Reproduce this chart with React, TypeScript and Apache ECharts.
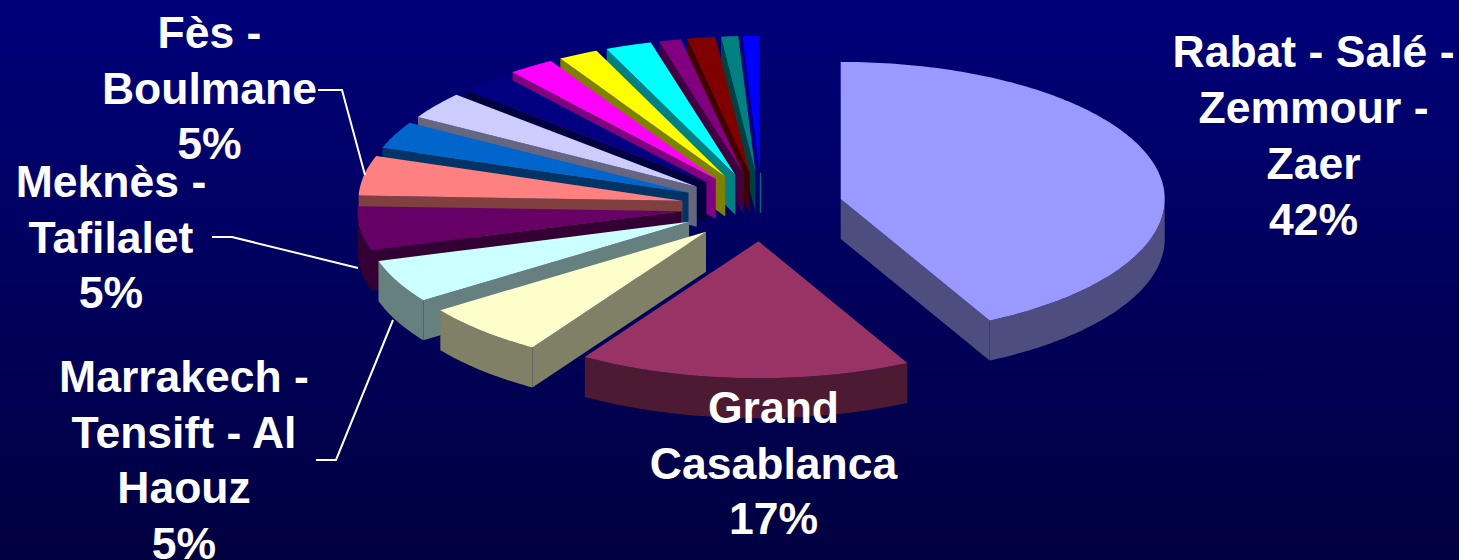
import React, { useEffect, useRef } from "react";
import * as echarts from "echarts";

// Slices clockwise from 12 o'clock, percent of the total.
const regions = [
  "Rabat - Salé - Zemmour - Zaer",
  "Grand Casablanca",
  "Region 3",
  "Marrakech - Tensift - Al Haouz",
  "Meknès - Tafilalet",
  "Fès - Boulmane",
  "Region 7",
  "Region 8",
  "Region 9",
  "Region 10",
  "Region 11",
  "Region 12",
  "Region 13",
  "Region 14",
  "Region 15",
  "Region 16",
];
const shares = [42.4, 16.6, 6.3, 5.1, 5.2, 4.7, 3.2, 3.2, 2.5, 2.3, 2, 2.3, 1.1, 1.4, 0.85, 0.85];
const topColors = [
  "#9999FF", "#993366", "#FFFFCC", "#CCFFFF", "#660066", "#FF8080", "#0066CC", "#CCCCFF",
  "#000080", "#FF00FF", "#FFFF00", "#00FFFF", "#800080", "#800000", "#008080", "#0000FF",
];
const wallColors = [
  "#4D4D80", "#4D1A33", "#808066", "#668080", "#330033", "#804040", "#003366", "#666680",
  "#000040", "#800080", "#808000", "#008080", "#400040", "#400000", "#004040", "#000080",
];

// Layout of the tilted pie
const CX = 762;
const CY = 207;
const RX = 324;
const RY = 137;
const DEPTH = 40;
const EXPLODE = 0.25;
const RAD = Math.PI / 180;

// Text blocks: slice index, wrapped region name, centre of the block
const labelBlocks = [
  { slice: 0, lines: ["Rabat - Salé -", "Zemmour -", "Zaer"], x: 1313.5, y: 135.5 },
  { slice: 1, lines: ["Grand", "Casablanca"], x: 773.5, y: 463 },
  { slice: 3, lines: ["Marrakech -", "Tensift - Al", "Haouz"], x: 184, y: 460 },
  { slice: 4, lines: ["Meknès -", "Tafilalet"], x: 111, y: 237 },
  { slice: 5, lines: ["Fès -", "Boulmane"], x: 209.5, y: 88 },
];
const leaders = [
  [[318, 90], [342, 90], [365, 175]],
  [[212, 237], [232, 237], [358, 268]],
  [[316, 460], [336, 460], [393, 320]],
];

const FONT = "'Liberation Sans', Arial, sans-serif";

const total = shares.reduce((s, v) => s + v, 0);
let run = 0;
const spans = shares.map((v, i) => {
  const start = (run / total) * 360;
  run += v;
  const end = (run / total) * 360;
  return { i, start, end };
});
const apexOf = (start: number, end: number) => {
  const mid = ((start + end) / 2) * RAD;
  return [CX + EXPLODE * RX * Math.sin(mid), CY - EXPLODE * RY * Math.cos(mid)];
};
// painter's order: the slices whose apex is highest on screen go first
const drawOrder = [...spans].sort((a, b) => apexOf(a.start, a.end)[1] - apexOf(b.start, b.end)[1]);
const seriesData = drawOrder.map((s) => [s.i, s.start, s.end]);

function renderSlice(_params: any, api: any) {
  const idx = api.value(0) as number;
  const a = api.value(1) as number;
  const b = api.value(2) as number;
  const [ax, ay] = apexOf(a, b);
  const rim = (deg: number, drop = 0) => [
    ax + RX * Math.sin(deg * RAD),
    ay - RY * Math.cos(deg * RAD) + drop,
  ];
  const arc = (from: number, to: number, drop = 0) => {
    const pts: number[][] = [];
    const n = Math.max(2, Math.ceil(to - from));
    for (let k = 0; k <= n; k++) pts.push(rim(from + ((to - from) * k) / n, drop));
    return pts;
  };
  const children: any[] = [];
  const wall = wallColors[idx];
  const edgeWall = (deg: number) => {
    const p = rim(deg);
    children.push({
      type: "polygon",
      shape: { points: [[ax, ay], p, [p[0], p[1] + DEPTH], [ax, ay + DEPTH]] },
      style: { fill: wall },
    });
  };
  if (a >= 180) edgeWall(a);
  if (b <= 180) edgeWall(b);
  const f = Math.max(a, 90);
  const t = Math.min(b, 270);
  if (t > f) {
    children.push({
      type: "polygon",
      shape: { points: [...arc(f, t), ...arc(f, t, DEPTH).reverse()] },
      style: { fill: wall },
    });
  }
  children.push({
    type: "polygon",
    shape: { points: [[ax, ay], ...arc(a, b)] },
    style: { fill: topColors[idx] },
  });
  if (idx === shares.length - 1) {
    children.push({
      type: "line",
      shape: { x1: ax + 0.5, y1: ay, x2: ax + 0.5, y2: ay + DEPTH },
      style: { stroke: "#008080", lineWidth: 1 },
    });
  }
  return { type: "group", children };
}

export default function App() {
  const ref = useRef<HTMLDivElement>(null);
  useEffect(() => {
    document.body.style.margin = "0";
    const chart = echarts.init(ref.current!, null, { renderer: "svg" });
    chart.setOption({
      animation: false,
      backgroundColor: {
        type: "linear",
        x: 0,
        y: 0,
        x2: 0,
        y2: 1,
        colorStops: [
          { offset: 0, color: "#00007A" },
          { offset: 1, color: "#000040" },
        ],
      },
      series: [
        {
          type: "custom",
          coordinateSystem: "none",
          renderItem: renderSlice,
          data: seriesData,
          silent: true,
        },
      ],
      graphic: [
        ...leaders.map((points) => ({
          type: "polyline",
          z: 50,
          shape: { points },
          style: { stroke: "#FFFFFF", lineWidth: 2, fill: "none" },
        })),
        ...labelBlocks.map((b) => ({
          type: "text",
          z: 60,
          x: b.x,
          y: b.y,
          style: {
            text: [...b.lines, `${Math.round((shares[b.slice] / total) * 100)}%`].join("\n"),
            fill: "#FFFFFF",
            font: `bold 44.5px ${FONT}`,
            lineHeight: 55.8,
            align: "center",
            verticalAlign: "middle",
          },
        })),
      ],
    });
    return () => chart.dispose();
  }, []);
  return (
    <div
      ref={ref}
      style={{ position: "absolute", left: 0, top: 0, width: 1459, height: 560 }}
      aria-label={regions.join(", ")}
    />
  );
}
